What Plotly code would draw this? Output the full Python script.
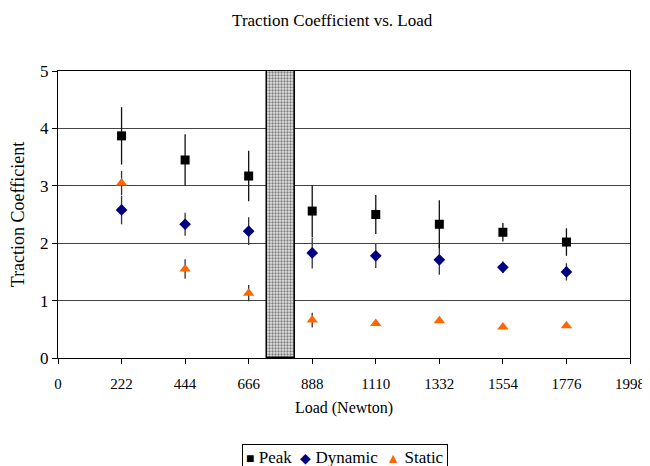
import plotly.graph_objects as go

loads = [222, 444, 666, 888, 1110, 1332, 1554, 1776]
peak = [3.87, 3.45, 3.17, 2.56, 2.50, 2.33, 2.19, 2.02]
peak_err = [0.50, 0.45, 0.44, 0.45, 0.34, 0.42, 0.16, 0.24]
dynamic = [2.58, 2.33, 2.21, 1.83, 1.78, 1.71, 1.58, 1.50]
dynamic_err = [0.25, 0.20, 0.24, 0.27, 0.21, 0.26, 0.10, 0.15]
static = [3.05, 1.55, 1.13, 0.66, 0.60, 0.65, 0.54, 0.56]
static_err = [0.21, 0.17, 0.14, 0.13, 0.04, 0.04, 0.03, 0.03]
x_ticks = [0, 222, 444, 666, 888, 1110, 1332, 1554, 1776, 1998]
band = [730, 827]
band_top = 5
series_names = ["Peak", "Dynamic", "Static"]
series_colors = ["black", "#000080", "#FF6600"]
series_glyphs = ["■", "◆", "▲"]

FONT = "Liberation Serif"

fig = go.Figure()

fig.add_trace(go.Bar(
    x=[(band[0] + band[1]) / 2], y=[band_top], width=[band[1] - band[0]], base=0,
    marker=dict(color="white", line=dict(color="black", width=1.5),
                pattern=dict(shape=".", fgcolor="#111111", bgcolor="#e4e4e4", size=3, solidity=0.45)),
    showlegend=False, hoverinfo="skip"))

def err(vals, color):
    return dict(type="data", array=vals, visible=True, color=color, thickness=1.3, width=0)

fig.add_trace(go.Scatter(x=loads, y=static, mode="markers", name=series_names[2],
                         marker=dict(symbol="triangle-up", size=10, color=series_colors[2]),
                         error_y=err(static_err, "#333333"), showlegend=False))
fig.add_trace(go.Scatter(x=loads, y=dynamic, mode="markers", name=series_names[1],
                         marker=dict(symbol="diamond", size=9, color=series_colors[1]),
                         error_y=err(dynamic_err, "#333333"), showlegend=False))
fig.add_trace(go.Scatter(x=loads, y=peak, mode="markers", name=series_names[0],
                         marker=dict(symbol="square", size=9, color=series_colors[0]),
                         error_y=err(peak_err, "#111111"), showlegend=False))

legend_text = "\u00a0\u00a0".join(
    f"<span style='color:{c};font-size:14px'>{g}</span>\u00a0{n}"
    for n, c, g in zip(series_names, series_colors, series_glyphs))

fig.add_annotation(
    text=legend_text, xref="paper", yref="paper", x=0.502, y=-0.30,
    xanchor="center", yanchor="top", showarrow=False,
    font=dict(family=FONT, size=17, color="black"),
    bordercolor="black", borderwidth=1, borderpad=3, bgcolor="white")

fig.update_layout(
    width=642, height=458,
    margin=dict(l=50, r=20, t=63, b=108, autoexpand=False),
    paper_bgcolor="white", plot_bgcolor="white",
    font=dict(family=FONT, size=16, color="black"),
    title=dict(text="Traction Coefficient vs. Load", x=0.505, xanchor="center",
               xref="container", yref="container",
               y=0.974, yanchor="middle", font=dict(family=FONT, size=17)),
    bargap=0,
    showlegend=False,
    xaxis=dict(range=[0, 1998], tickvals=x_ticks, ticktext=[str(v) for v in x_ticks],
               automargin=False,
               showgrid=False, zeroline=False, showline=True, linecolor="black", linewidth=1,
               mirror=True, ticks="outside", ticklen=5, tickcolor="black",
               ticklabelstandoff=7,
               tickfont=dict(family=FONT, size=15),
               title=dict(text="Load (Newton)", font=dict(family=FONT, size=16), standoff=10)),
    yaxis=dict(range=[0, 5], dtick=1, showgrid=True, gridcolor="#444444", gridwidth=1,
               automargin=False,
               zeroline=False, showline=True, linecolor="black", linewidth=1, mirror=True,
               ticks="outside", ticklen=5, tickcolor="black",
               tickfont=dict(family=FONT, size=17),
               title=dict(text="Traction Coefficient", font=dict(family=FONT, size=18), standoff=12)),
)

fig.write_html("out.html")
